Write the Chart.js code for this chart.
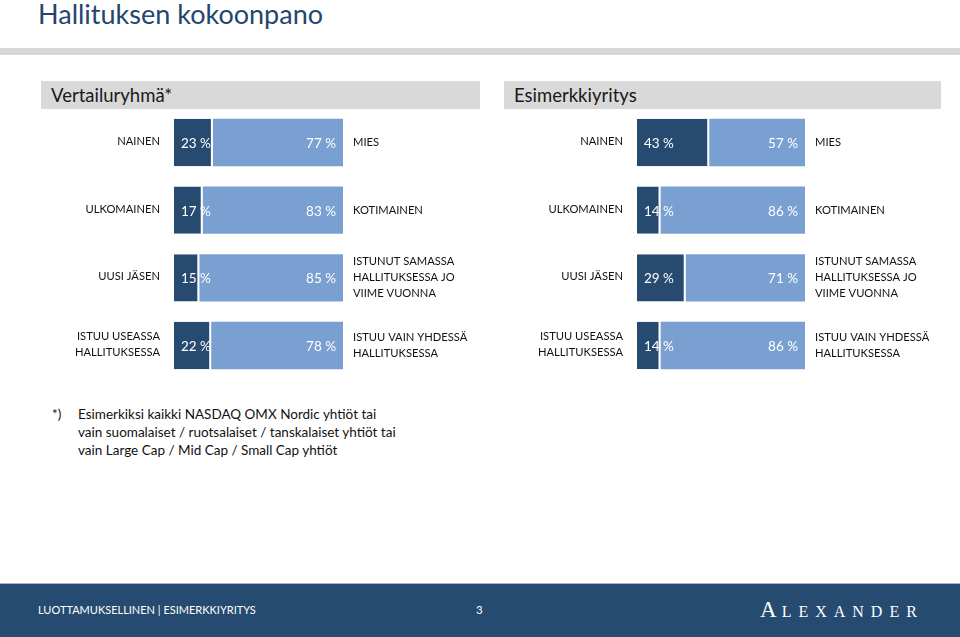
<!DOCTYPE html>
<html><head><meta charset="utf-8">
<script src="https://cdn.jsdelivr.net/npm/chart.js@4"></script>
<style>
html,body{margin:0;padding:0;width:960px;height:637px;overflow:hidden;background:#fff;font-family:Lato,"Open Sans",sans-serif;}
#title{position:absolute;left:38px;top:-3px;font-size:27px;color:#24466e;white-space:nowrap;}
#band{position:absolute;left:0;top:48px;width:960px;height:7px;background:#d7d7d3;}
.hdr{position:absolute;top:81px;height:28px;background:#d9d9d9;font-size:18.5px;color:#1a1a1a;line-height:29px;padding-left:10px;box-sizing:border-box;}
.cv{position:absolute;top:100px;}
#note{position:absolute;left:52px;top:405px;font-size:13.5px;line-height:18px;color:#111;}
#note .star{position:absolute;left:0;top:0;}
#note .txt{position:absolute;left:26px;top:0;white-space:nowrap;}
#footer{position:absolute;left:0;top:583px;width:960px;height:54px;background:#254b71;border-top:1px solid #9fb8d3;box-sizing:border-box;}
#ft1{position:absolute;left:38px;top:19px;color:#fff;font-size:11px;white-space:nowrap;}
#ft2{position:absolute;left:476px;top:19px;color:#fff;font-size:11.5px;}
#ft3{position:absolute;left:760px;top:13px;color:#fff;font-family:"Liberation Serif","DejaVu Serif",serif;font-size:16px;letter-spacing:7px;white-space:nowrap;}
#ft3 b{font-weight:normal;font-size:23px;letter-spacing:5px;}
</style></head>
<body>
<div id="title">Hallituksen kokoonpano</div>
<div id="band"></div>
<div class="hdr" style="left:41px;width:439px;">Vertailuryhmä*</div>
<div class="hdr" style="left:504px;width:437px;">Esimerkkiyritys</div>
<canvas id="c1" class="cv" style="left:0px;" width="480" height="290"></canvas>
<canvas id="c2" class="cv" style="left:480px;" width="480" height="290"></canvas>
<div id="note"><span class="star">*)</span><span class="txt">Esimerkiksi kaikki NASDAQ OMX Nordic yhtiöt tai<br>vain suomalaiset / ruotsalaiset / tanskalaiset yhtiöt tai<br>vain Large Cap / Mid Cap / Small Cap yhtiöt</span></div>
<div id="footer"><div id="ft1">LUOTTAMUKSELLINEN | ESIMERKKIYRITYS</div><div id="ft2">3</div><div id="ft3"><b>A</b>LEXANDER</div></div>
<script>
const leftLabels = [["NAINEN"],["ULKOMAINEN"],["UUSI JÄSEN"],["ISTUU USEASSA","HALLITUKSESSA"]];
const rightLabels = [["MIES"],["KOTIMAINEN"],["ISTUNUT SAMASSA","HALLITUKSESSA JO","VIIME VUONNA"],["ISTUU VAIN YHDESSÄ","HALLITUKSESSA"]];
const categories = ["Nainen/Mies","Ulkomainen/Kotimainen","Uusi jäsen/Istunut","Useassa/Yhdessä"];
const vertailuDark = [23,17,15,22];
const vertailuLight = [77,83,85,78];
const esimerkkiDark = [43,14,29,14];
const esimerkkiLight = [57,86,71,86];

const DARK = "#264a70";
const LIGHT = "#7aa0d2";

const labelPlugin = {
  id:'sideLabels',
  afterDatasetsDraw(chart){
    const ctx = chart.ctx, ca = chart.chartArea;
    const m0 = chart.getDatasetMeta(0);
    ctx.save();
    ctx.textBaseline = 'middle';
    categories.forEach((c,i)=>{
      const y = m0.data[i].y;
      ctx.font = '13.5px Lato, "Open Sans", sans-serif';
      ctx.fillStyle = '#ffffff';
      ctx.textAlign = 'left';
      ctx.fillText(chart.data.datasets[0].data[i] + ' %', ca.left + 7, y + 1);
      ctx.textAlign = 'right';
      ctx.fillText(chart.data.datasets[1].data[i] + ' %', ca.right - 7, y + 1);
      ctx.font = '11.2px Lato, "Open Sans", sans-serif';
      ctx.fillStyle = '#111111';
      const lh = 16;
      const L = leftLabels[i];
      ctx.textAlign = 'right';
      L.forEach((t,k)=>ctx.fillText(t, ca.left - 14, y - (L.length-1)*lh/2 + k*lh - 1));
      const R = rightLabels[i];
      ctx.textAlign = 'left';
      R.forEach((t,k)=>ctx.fillText(t, ca.right + 10, y - (R.length-1)*lh/2 + k*lh));
    });
    ctx.restore();
  }
};

function makeChart(id, dark, light, padL, padR){
  return new Chart(document.getElementById(id), {
    type:'bar',
    data:{labels:categories, datasets:[
      {data:dark, backgroundColor:DARK, borderColor:'#ffffff', borderWidth:{top:0,bottom:0,left:0,right:2}, borderSkipped:false, barPercentage:0.7, categoryPercentage:1},
      {data:light, backgroundColor:LIGHT, borderWidth:0, barPercentage:0.7, categoryPercentage:1}
    ]},
    options:{
      indexAxis:'y', responsive:false, animation:false,
      layout:{padding:{left:padL, right:padR, top:8.6, bottom:10.6}},
      plugins:{legend:{display:false}, tooltip:{enabled:false}},
      scales:{
        x:{stacked:true, min:0, max:100, display:false},
        y:{stacked:true, display:false}
      }
    },
    plugins:[labelPlugin]
  });
}
makeChart('c1', vertailuDark, vertailuLight, 174, 137);
makeChart('c2', esimerkkiDark, esimerkkiLight, 157, 155);
</script>
</body></html>
